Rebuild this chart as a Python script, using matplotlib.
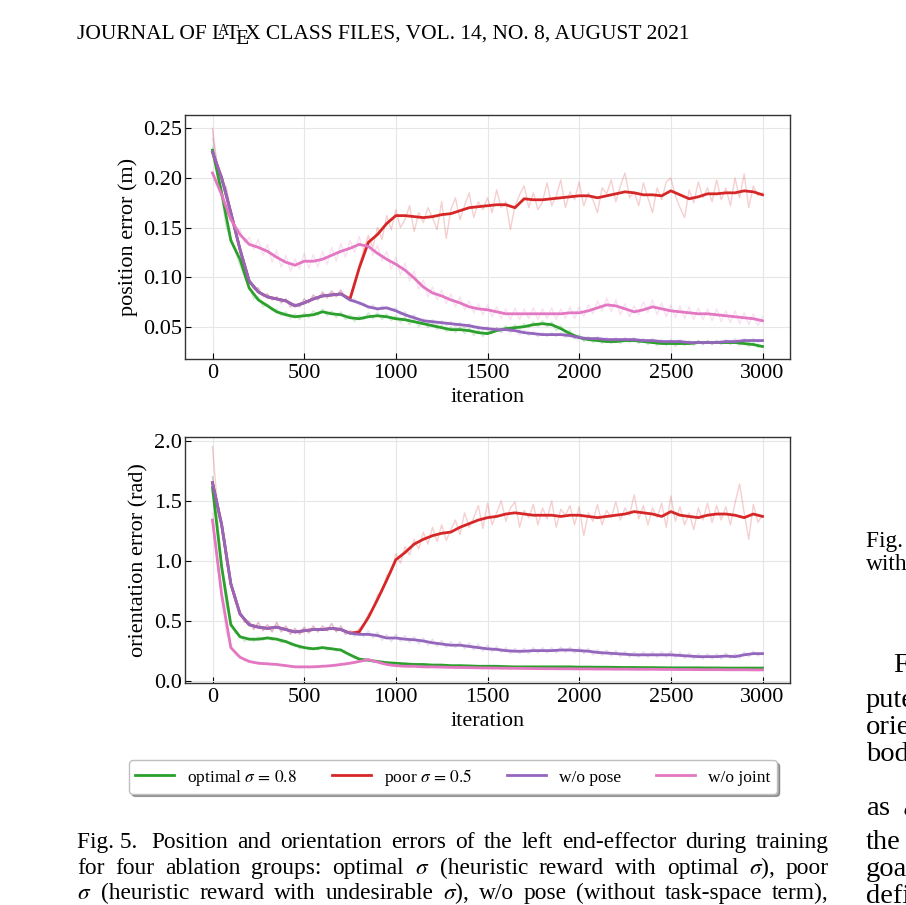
import matplotlib
matplotlib.use("Agg")
import matplotlib.pyplot as plt
import numpy as np

plt.rcParams['font.family'] = ['Liberation Serif', 'DejaVu Serif']
plt.rcParams['mathtext.fontset'] = 'stix'

W, H = 906, 905

# iteration grids: smoothed curves every 50, raw curves every 25
iters = np.arange(0, 3001, 50)
iters_raw = np.arange(0, 3001, 25)

# ---- position error (m), smoothed ----
green_pos = [0.228, 0.185, 0.137, 0.118, 0.089, 0.077, 0.071, 0.065, 0.062, 0.060,
             0.061, 0.062, 0.065, 0.063, 0.062, 0.059, 0.058, 0.060, 0.061, 0.060,
             0.058, 0.057, 0.055, 0.053, 0.051, 0.049, 0.047, 0.047, 0.046, 0.044,
             0.043, 0.046, 0.048, 0.049, 0.050, 0.052, 0.053, 0.052, 0.048, 0.043,
             0.039, 0.037, 0.036, 0.035, 0.035, 0.036, 0.036, 0.035, 0.034, 0.033,
             0.033, 0.033, 0.033, 0.034, 0.034, 0.034, 0.034, 0.034, 0.033, 0.032,
             0.030]
red_pos = [0.226, 0.200, 0.165, 0.128, 0.096, 0.085, 0.080, 0.078, 0.076, 0.071,
           0.074, 0.078, 0.081, 0.082, 0.083, 0.078, 0.109, 0.135, 0.143, 0.154,
           0.162, 0.162, 0.161, 0.160, 0.161, 0.163, 0.164, 0.167, 0.170, 0.171,
           0.172, 0.173, 0.173, 0.170, 0.179, 0.178, 0.178, 0.179, 0.180, 0.181,
           0.182, 0.182, 0.180, 0.182, 0.184, 0.186, 0.185, 0.183, 0.183, 0.182,
           0.187, 0.183, 0.179, 0.181, 0.184, 0.184, 0.185, 0.185, 0.187, 0.186,
           0.183]
purple_pos = [0.226, 0.200, 0.165, 0.128, 0.096, 0.085, 0.080, 0.078, 0.076, 0.071,
              0.074, 0.078, 0.081, 0.082, 0.083, 0.077, 0.074, 0.070, 0.068, 0.069,
              0.066, 0.062, 0.059, 0.056, 0.055, 0.054, 0.053, 0.052, 0.051, 0.049,
              0.048, 0.047, 0.047, 0.046, 0.044, 0.043, 0.042, 0.042, 0.042, 0.041,
              0.039, 0.038, 0.038, 0.037, 0.037, 0.037, 0.037, 0.036, 0.036, 0.035,
              0.035, 0.035, 0.034, 0.034, 0.034, 0.034, 0.035, 0.035, 0.036, 0.036,
              0.036]
pink_pos = [0.205, 0.183, 0.158, 0.143, 0.133, 0.130, 0.126, 0.120, 0.115, 0.112,
            0.116, 0.116, 0.118, 0.122, 0.126, 0.129, 0.133, 0.131, 0.124, 0.118,
            0.113, 0.107, 0.099, 0.090, 0.084, 0.081, 0.077, 0.074, 0.070, 0.068,
            0.067, 0.065, 0.063, 0.063, 0.063, 0.063, 0.063, 0.063, 0.063, 0.064,
            0.064, 0.066, 0.069, 0.072, 0.071, 0.068, 0.065, 0.067, 0.070, 0.068,
            0.066, 0.065, 0.064, 0.063, 0.063, 0.062, 0.061, 0.060, 0.059, 0.058,
            0.056]

# ---- position error (m), raw ----
green_pos_raw = [0.232, 0.205, 0.180, 0.150, 0.140, 0.125, 0.112, 0.100, 0.090, 0.078,
                 0.080, 0.070, 0.073, 0.066, 0.068, 0.061, 0.065, 0.058, 0.063, 0.057,
                 0.064, 0.059, 0.066, 0.061, 0.068, 0.061, 0.066, 0.059, 0.065, 0.057,
                 0.062, 0.055, 0.061, 0.057, 0.064, 0.058, 0.064, 0.057, 0.063, 0.056,
                 0.061, 0.054, 0.060, 0.052, 0.058, 0.050, 0.056, 0.049, 0.054, 0.047,
                 0.052, 0.045, 0.050, 0.044, 0.050, 0.043, 0.049, 0.041, 0.047, 0.040,
                 0.046, 0.043, 0.049, 0.045, 0.051, 0.046, 0.052, 0.047, 0.053, 0.049,
                 0.055, 0.050, 0.056, 0.050, 0.055, 0.046, 0.051, 0.042, 0.046, 0.038,
                 0.042, 0.035, 0.039, 0.034, 0.038, 0.033, 0.037, 0.033, 0.037, 0.033,
                 0.038, 0.034, 0.038, 0.033, 0.037, 0.032, 0.036, 0.031, 0.035, 0.031,
                 0.035, 0.030, 0.035, 0.031, 0.035, 0.031, 0.036, 0.032, 0.036, 0.032,
                 0.036, 0.032, 0.036, 0.032, 0.036, 0.031, 0.035, 0.030, 0.034, 0.029,
                 0.031]
red_pos_raw = [0.250, 0.215, 0.198, 0.190, 0.166, 0.150, 0.126, 0.112, 0.098, 0.088,
               0.089, 0.081, 0.083, 0.077, 0.080, 0.074, 0.078, 0.070, 0.073, 0.070,
               0.078, 0.074, 0.082, 0.077, 0.085, 0.079, 0.086, 0.080, 0.087, 0.079,
               0.076, 0.090, 0.112, 0.128, 0.142, 0.130, 0.150, 0.138, 0.162, 0.148,
               0.168, 0.150, 0.158, 0.172, 0.146, 0.165, 0.155, 0.170, 0.160, 0.148,
               0.176, 0.139, 0.168, 0.180, 0.158, 0.172, 0.185, 0.160, 0.176, 0.168,
               0.180, 0.165, 0.188, 0.170, 0.176, 0.148, 0.172, 0.183, 0.192, 0.170,
               0.185, 0.168, 0.176, 0.195, 0.172, 0.182, 0.198, 0.170, 0.186, 0.178,
               0.196, 0.172, 0.185, 0.178, 0.165, 0.190, 0.184, 0.198, 0.176, 0.192,
               0.205, 0.180, 0.186, 0.172, 0.195, 0.180, 0.165, 0.190, 0.178, 0.196,
               0.200, 0.182, 0.170, 0.160, 0.188, 0.175, 0.196, 0.180, 0.190, 0.176,
               0.198, 0.178, 0.190, 0.172, 0.200, 0.180, 0.204, 0.170, 0.192, 0.182,
               0.185]
purple_pos_raw = [0.240, 0.215, 0.198, 0.190, 0.166, 0.150, 0.126, 0.112, 0.098, 0.088,
                  0.089, 0.081, 0.083, 0.077, 0.080, 0.074, 0.078, 0.070, 0.073, 0.070,
                  0.078, 0.074, 0.082, 0.077, 0.085, 0.079, 0.086, 0.080, 0.087, 0.079,
                  0.076, 0.078, 0.072, 0.074, 0.068, 0.072, 0.066, 0.071, 0.068, 0.067,
                  0.069, 0.062, 0.065, 0.058, 0.062, 0.055, 0.058, 0.053, 0.057, 0.052,
                  0.056, 0.051, 0.055, 0.050, 0.054, 0.049, 0.053, 0.048, 0.051, 0.046,
                  0.050, 0.045, 0.049, 0.044, 0.049, 0.044, 0.047, 0.042, 0.046, 0.041,
                  0.045, 0.040, 0.044, 0.040, 0.044, 0.040, 0.044, 0.039, 0.043, 0.038,
                  0.041, 0.036, 0.040, 0.036, 0.040, 0.035, 0.039, 0.035, 0.039, 0.035,
                  0.039, 0.035, 0.039, 0.034, 0.038, 0.034, 0.038, 0.033, 0.037, 0.033,
                  0.037, 0.033, 0.037, 0.032, 0.036, 0.032, 0.036, 0.032, 0.036, 0.032,
                  0.036, 0.033, 0.037, 0.033, 0.038, 0.034, 0.038, 0.034, 0.038, 0.034,
                  0.037]
pink_pos_raw = [0.248, 0.200, 0.186, 0.165, 0.160, 0.148, 0.148, 0.135, 0.140, 0.128,
                0.138, 0.122, 0.133, 0.115, 0.127, 0.110, 0.122, 0.106, 0.118, 0.108,
                0.124, 0.109, 0.123, 0.110, 0.126, 0.113, 0.130, 0.116, 0.134, 0.120,
                0.137, 0.125, 0.141, 0.126, 0.139, 0.122, 0.132, 0.116, 0.126, 0.108,
                0.120, 0.102, 0.114, 0.096, 0.106, 0.088, 0.097, 0.080, 0.090, 0.077,
                0.087, 0.073, 0.083, 0.070, 0.080, 0.067, 0.076, 0.064, 0.073, 0.062,
                0.072, 0.060, 0.070, 0.058, 0.068, 0.057, 0.069, 0.057, 0.068, 0.058,
                0.069, 0.057, 0.068, 0.058, 0.069, 0.057, 0.068, 0.058, 0.070, 0.058,
                0.070, 0.060, 0.072, 0.063, 0.076, 0.066, 0.079, 0.065, 0.077, 0.062,
                0.073, 0.060, 0.071, 0.062, 0.075, 0.064, 0.077, 0.062, 0.074, 0.060,
                0.072, 0.059, 0.071, 0.058, 0.070, 0.057, 0.069, 0.057, 0.068, 0.056,
                0.068, 0.055, 0.066, 0.054, 0.066, 0.053, 0.064, 0.052, 0.063, 0.051,
                0.060]

# ---- orientation error (rad), smoothed ----
green_ori = [1.61, 0.95, 0.47, 0.37, 0.35, 0.35, 0.36, 0.35, 0.33, 0.30,
             0.28, 0.27, 0.28, 0.27, 0.26, 0.22, 0.185, 0.175, 0.165, 0.155,
             0.150, 0.145, 0.140, 0.140, 0.135, 0.135, 0.130, 0.130, 0.128, 0.125,
             0.125, 0.125, 0.122, 0.120, 0.120, 0.120, 0.120, 0.120, 0.120, 0.120,
             0.118, 0.118, 0.117, 0.117, 0.116, 0.115, 0.115, 0.114, 0.114, 0.113,
             0.112, 0.112, 0.112, 0.112, 0.111, 0.111, 0.110, 0.110, 0.110, 0.110,
             0.110]
red_ori = [1.65, 1.30, 0.81, 0.56, 0.47, 0.45, 0.44, 0.45, 0.43, 0.41,
           0.42, 0.43, 0.43, 0.44, 0.43, 0.40, 0.41, 0.53, 0.68, 0.84,
           1.01, 1.07, 1.14, 1.18, 1.21, 1.23, 1.24, 1.28, 1.31, 1.34,
           1.36, 1.37, 1.39, 1.40, 1.39, 1.38, 1.38, 1.38, 1.37, 1.38,
           1.38, 1.37, 1.36, 1.37, 1.38, 1.39, 1.41, 1.40, 1.39, 1.37,
           1.41, 1.38, 1.37, 1.36, 1.38, 1.39, 1.39, 1.38, 1.36, 1.39,
           1.37]
purple_ori = [1.65, 1.30, 0.81, 0.56, 0.47, 0.45, 0.44, 0.45, 0.43, 0.41,
              0.42, 0.43, 0.43, 0.44, 0.43, 0.40, 0.39, 0.39, 0.38, 0.36,
              0.36, 0.35, 0.345, 0.335, 0.32, 0.31, 0.30, 0.30, 0.29, 0.28,
              0.27, 0.265, 0.255, 0.25, 0.25, 0.255, 0.255, 0.255, 0.26, 0.26,
              0.255, 0.25, 0.24, 0.235, 0.23, 0.225, 0.22, 0.22, 0.22, 0.22,
              0.22, 0.215, 0.21, 0.205, 0.205, 0.205, 0.21, 0.205, 0.22, 0.23,
              0.23]
pink_ori = [1.34, 0.72, 0.28, 0.20, 0.165, 0.15, 0.145, 0.14, 0.13, 0.12,
            0.12, 0.12, 0.125, 0.13, 0.14, 0.15, 0.165, 0.18, 0.16, 0.14,
            0.13, 0.125, 0.125, 0.12, 0.12, 0.118, 0.116, 0.115, 0.114, 0.112,
            0.111, 0.110, 0.109, 0.108, 0.107, 0.106, 0.105, 0.105, 0.104, 0.104,
            0.103, 0.103, 0.102, 0.102, 0.101, 0.101, 0.100, 0.100, 0.100, 0.099,
            0.099, 0.098, 0.098, 0.097, 0.097, 0.097, 0.096, 0.096, 0.096, 0.095,
            0.095]

# ---- orientation error (rad), raw ----
green_ori_raw = [1.70, 1.40, 0.98, 0.62, 0.50, 0.40, 0.38, 0.33, 0.36, 0.33,
                 0.37, 0.34, 0.37, 0.34, 0.36, 0.32, 0.34, 0.30, 0.31, 0.27,
                 0.29, 0.26, 0.28, 0.26, 0.29, 0.26, 0.28, 0.25, 0.27, 0.23,
                 0.23, 0.19, 0.19, 0.17, 0.18, 0.16, 0.17, 0.15, 0.16, 0.14,
                 0.155, 0.14, 0.15, 0.135, 0.145, 0.13, 0.145, 0.13, 0.14, 0.125,
                 0.14, 0.125, 0.135, 0.12, 0.135, 0.12, 0.13, 0.12, 0.13, 0.115,
                 0.13, 0.115, 0.13, 0.115, 0.125, 0.11, 0.125, 0.11, 0.125, 0.11,
                 0.125, 0.11, 0.125, 0.11, 0.125, 0.11, 0.125, 0.11, 0.125, 0.11,
                 0.122, 0.11, 0.122, 0.108, 0.12, 0.108, 0.12, 0.107, 0.12, 0.106,
                 0.12, 0.106, 0.118, 0.105, 0.118, 0.105, 0.117, 0.104, 0.117, 0.104,
                 0.118, 0.104, 0.116, 0.103, 0.116, 0.103, 0.116, 0.103, 0.115, 0.103,
                 0.115, 0.103, 0.115, 0.103, 0.115, 0.103, 0.115, 0.103, 0.115, 0.103,
                 0.11]
red_ori_raw = [1.95, 1.50, 1.30, 1.00, 0.82, 0.66, 0.58, 0.49, 0.50, 0.43,
               0.49, 0.42, 0.47, 0.41, 0.49, 0.41, 0.46, 0.39, 0.44, 0.39,
               0.45, 0.40, 0.46, 0.41, 0.46, 0.42, 0.48, 0.41, 0.46, 0.39,
               0.42, 0.40, 0.44, 0.47, 0.56, 0.60, 0.72, 0.74, 0.88, 0.90,
               1.06, 0.98, 1.12, 1.05, 1.18, 1.10, 1.24, 1.14, 1.28, 1.16,
               1.30, 1.17, 1.26, 1.34, 1.22, 1.40, 1.28, 1.36, 1.46, 1.27,
               1.48, 1.30, 1.40, 1.50, 1.33, 1.44, 1.49, 1.28, 1.42, 1.36,
               1.47, 1.30, 1.44, 1.35, 1.50, 1.28, 1.43, 1.38, 1.46, 1.30,
               1.45, 1.21, 1.40, 1.33, 1.47, 1.30, 1.42, 1.36, 1.49, 1.34,
               1.44, 1.38, 1.55, 1.35, 1.46, 1.30, 1.44, 1.36, 1.48, 1.28,
               1.54, 1.33, 1.45, 1.30, 1.40, 1.26, 1.44, 1.34, 1.48, 1.32,
               1.46, 1.34, 1.45, 1.30, 1.48, 1.64, 1.40, 1.18, 1.47, 1.32,
               1.38]
purple_ori_raw = [1.70, 1.45, 1.30, 1.00, 0.82, 0.66, 0.58, 0.49, 0.50, 0.43,
                  0.49, 0.42, 0.47, 0.41, 0.49, 0.41, 0.46, 0.39, 0.44, 0.39,
                  0.45, 0.40, 0.46, 0.41, 0.46, 0.42, 0.48, 0.41, 0.46, 0.39,
                  0.42, 0.37, 0.42, 0.37, 0.42, 0.36, 0.41, 0.34, 0.39, 0.33,
                  0.39, 0.33, 0.38, 0.32, 0.37, 0.31, 0.36, 0.30, 0.35, 0.29,
                  0.34, 0.28, 0.33, 0.28, 0.33, 0.27, 0.32, 0.26, 0.31, 0.25,
                  0.30, 0.245, 0.29, 0.24, 0.28, 0.23, 0.275, 0.23, 0.275, 0.23,
                  0.28, 0.235, 0.28, 0.235, 0.28, 0.235, 0.285, 0.24, 0.285, 0.235,
                  0.28, 0.23, 0.275, 0.22, 0.265, 0.215, 0.26, 0.21, 0.255, 0.205,
                  0.25, 0.20, 0.245, 0.20, 0.245, 0.20, 0.245, 0.20, 0.245, 0.20,
                  0.25, 0.195, 0.24, 0.19, 0.235, 0.185, 0.23, 0.185, 0.23, 0.185,
                  0.23, 0.185, 0.235, 0.19, 0.23, 0.19, 0.245, 0.205, 0.25, 0.21,
                  0.24]
pink_ori_raw = [1.40, 1.00, 0.70, 0.40, 0.30, 0.22, 0.21, 0.17, 0.175, 0.15,
                0.16, 0.14, 0.155, 0.135, 0.15, 0.13, 0.14, 0.12, 0.13, 0.11,
                0.13, 0.11, 0.13, 0.115, 0.135, 0.12, 0.14, 0.125, 0.15, 0.135,
                0.16, 0.15, 0.175, 0.17, 0.19, 0.165, 0.165, 0.14, 0.15, 0.125,
                0.14, 0.12, 0.135, 0.115, 0.13, 0.115, 0.13, 0.11, 0.13, 0.11,
                0.125, 0.11, 0.125, 0.105, 0.12, 0.105, 0.12, 0.105, 0.12, 0.10,
                0.12, 0.10, 0.115, 0.10, 0.115, 0.10, 0.115, 0.10, 0.115, 0.10,
                0.113, 0.098, 0.113, 0.098, 0.112, 0.097, 0.112, 0.097, 0.11, 0.096,
                0.11, 0.096, 0.109, 0.095, 0.109, 0.095, 0.108, 0.094, 0.108, 0.094,
                0.108, 0.094, 0.107, 0.093, 0.107, 0.093, 0.106, 0.092, 0.106, 0.092,
                0.106, 0.092, 0.105, 0.091, 0.105, 0.091, 0.104, 0.090, 0.104, 0.090,
                0.104, 0.090, 0.103, 0.089, 0.103, 0.089, 0.102, 0.088, 0.102, 0.088,
                0.095]

labels = [r"optimal $\sigma\,=\,0.8$", r"poor $\sigma\,=\,0.5$", "w/o pose", "w/o joint"]
colors = ["#2ca02c", "#d62728", "#9467bd", "#e377c2"]

fig = plt.figure(figsize=(W / 100, H / 100), dpi=100)
rend = fig.canvas.get_renderer()


def fpos(x, y):
    return x / W, 1 - y / H


def panel(rect, smooth, raw, ylabel, ylim, yticks, fmt):
    ax = fig.add_axes(rect)
    for r, c in zip(raw, colors):
        ax.plot(iters_raw, r, color=c, alpha=0.22, lw=1.0)
    for s, c, lab in zip(smooth, colors, labels):
        ax.plot(iters, s, color=c, lw=2.0, label=lab)
    ax.set_xlim(-150, 3150)
    ax.set_ylim(*ylim)
    ax.set_xticks(range(0, 3001, 500))
    ax.set_yticks(yticks)
    ax.set_yticklabels([fmt.format(v) for v in yticks])
    ax.grid(True, color="#e6e6e6", lw=0.8)
    ax.set_axisbelow(True)
    ax.tick_params(direction="in", length=4, width=0.8, labelsize=16)
    ax.tick_params(axis="y", pad=2)
    for sp in ax.spines.values():
        sp.set_color("0.2")
        sp.set_linewidth(1.0)
    ax.set_xlabel("iteration", fontsize=16)
    ax.set_ylabel(ylabel, fontsize=16)
    return ax


ax1 = panel([185 / W, 1 - 359 / H, 605 / W, 244 / H],
            [green_pos, red_pos, purple_pos, pink_pos],
            [green_pos_raw, red_pos_raw, purple_pos_raw, pink_pos_raw],
            "position error (m)", (0.0174, 0.2635),
            [0.05, 0.10, 0.15, 0.20, 0.25], "{:.2f}")
ax2 = panel([185 / W, 1 - 683 / H, 605 / W, 246 / H],
            [green_ori, red_ori, purple_ori, pink_ori],
            [green_ori_raw, red_ori_raw, purple_ori_raw, pink_ori_raw],
            "orientation error (rad)", (-0.014, 2.03),
            [0.0, 0.5, 1.0, 1.5, 2.0], "{:.1f}")

handles, labs = ax1.get_legend_handles_labels()
fig.legend(handles, labs, loc="center", bbox_to_anchor=fpos(453, 777), ncol=4,
           fontsize=12.5, frameon=True, fancybox=True, shadow=True,
           handlelength=2.25, handletextpad=0.75, columnspacing=2.0,
           borderpad=0.35, edgecolor="0.75", framealpha=1)


def put(x, y, s, size, **kw):
    t = fig.text(*fpos(x, y), s, fontsize=size, va="baseline", **kw)
    return x + t.get_window_extent(renderer=rend).width


# page header with the LaTeX logo
hs = 15.5
em = hs * 100 / 72
x = put(77, 39, "JOURNAL OF L", hs)
x -= 0.36 * em
xa = put(x, 39 - 0.2 * em, "A", hs * 0.72)
x = xa - 0.15 * em
x = put(x, 39, "T", hs)
x -= 0.1667 * em
xe = put(x, 39 + 0.22 * em, "E", hs)
x = xe - 0.125 * em
put(x, 39, "X CLASS FILES, VOL. 14, NO. 8, AUGUST 2021", hs)


def justify(words, y, size, x0=77, x1=829, extra=0.0):
    texts = [fig.text(0, 0, w, fontsize=size, va="baseline") for w in words]
    widths = [t.get_window_extent(renderer=rend).width for t in texts]
    gap = (x1 - x0 - sum(widths) - extra) / (len(words) - 1)
    x = x0
    for i, (t, w) in enumerate(zip(texts, widths)):
        t.set_position(fpos(x, y))
        x += w + gap + (extra if i == 0 else 0)


cs = 16.8
justify(["Fig. 5.", "Position", "and", "orientation", "errors", "of", "the", "left",
         "end-effector", "during", "training"], 848, cs, extra=5)
justify(["for", "four", "ablation", "groups:", "optimal", r"$\sigma$", "(heuristic",
         "reward", "with", "optimal", r"$\sigma$),", "poor"], 874, cs)
justify([r"$\sigma$", "(heuristic", "reward", "with", "undesirable", r"$\sigma$),",
         "w/o", "pose", "(without", "task-space", "term),"], 899, cs)

# right column fragments, clipped by the page edge
put(866, 547, "Fig. 6.", cs)
put(866, 570, "with", cs)
bs = 20.5
put(893, 672, "For", bs)
for yy, word in [(707, "puted"), (734, "orientation"), (761, "body"),
                 (815, r"as  $a$"), (849, "the"), (876, "goal"), (903, "defined")]:
    put(866, yy, word, bs)

fig.savefig("out.png", dpi=100)
